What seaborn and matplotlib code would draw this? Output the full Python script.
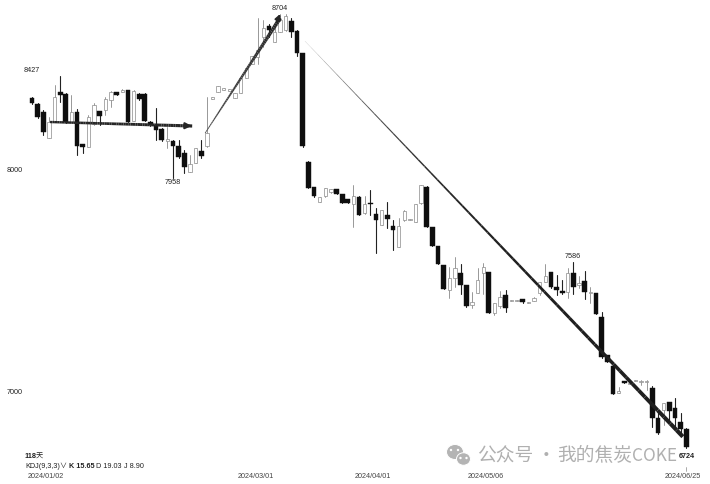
import numpy as np
import pandas as pd
import matplotlib
matplotlib.use("Agg")
import matplotlib.pyplot as plt
from matplotlib.patches import Ellipse
import seaborn as sns

highs = [8328,8301,8270,8239,8383,8423,8346,8338,8275,8117,8248,8301,8265,8329,8355,8351,8365,8360,8360,8346,
         8346,8221,8279,8189,8194,8135,8135,8090,8068,8099,8135,8329,8329,8378,8369,8365,8347,8414,8459,8513,
         8684,8675,8657,8653,8702,8702,8684,8630,8527,8040,7923,7878,7919,7914,7914,7892,7870,7933,7883,7883,
         7910,7829,7820,7856,7775,7784,7820,7780,7847,7933,7928,7743,7658,7573,7564,7608,7577,7483,7451,7559,
         7581,7541,7401,7455,7460,7415,7415,7420,7406,7429,7496,7577,7541,7528,7505,7559,7586,7523,7545,7474,
         7447,7361,7168,7122,7024,7050,7041,7055,7055,7055,7028,6920,6951,6956,6974,6906,6839]
opens = [8324,8297,8261,8144,8216,8351,8342,8216,8261,8117,8103,8207,8265,8270,8315,8351,8351,8360,8221,8342,
         8342,8216,8203,8185,8131,8131,8108,8076,7991,8032,8086,8108,8320,8351,8360,8356,8324,8347,8414,8477,
         8509,8599,8648,8576,8621,8630,8670,8625,8527,8036,7923,7856,7883,7901,7914,7892,7870,7847,7879,7807,
         7852,7802,7752,7798,7748,7653,7775,7775,7766,7851,7923,7743,7658,7573,7460,7514,7536,7483,7392,7447,
         7537,7541,7357,7388,7437,7410,7410,7420,7401,7410,7447,7496,7541,7473,7456,7451,7536,7483,7500,7447,
         7447,7339,7168,7118,6997,7050,7037,7050,7046,7046,7019,6884,6920,6956,6929,6866,6834]
closes = [8301,8239,8171,8216,8329,8338,8216,8261,8108,8103,8239,8292,8243,8320,8351,8338,8360,8216,8355,8320,
          8221,8203,8180,8135,8140,8108,8059,8014,8027,8099,8063,8166,8329,8378,8369,8365,8347,8414,8459,8513,
          8540,8639,8630,8621,8675,8693,8621,8527,8108,7919,7883,7878,7919,7914,7892,7851,7851,7883,7798,7847,
          7847,7775,7820,7780,7730,7748,7816,7780,7847,7933,7743,7658,7577,7465,7514,7559,7483,7388,7406,7505,
          7564,7357,7401,7428,7379,7415,7415,7406,7406,7424,7496,7523,7473,7460,7447,7536,7473,7491,7451,7447,
          7352,7159,7136,6992,7006,7041,7041,7055,7050,7050,6884,6816,6951,6915,6884,6834,6753]
lows = [8297,8234,8158,8144,8216,8306,8211,8216,8068,8076,8103,8202,8202,8248,8284,8338,8351,8216,8221,8315,
        8221,8198,8135,8131,8099,7964,8054,7987,7991,8032,8054,8103,8320,8351,8360,8356,8324,8347,8414,8477,
        8477,8553,8599,8576,8621,8625,8599,8513,8103,7919,7878,7856,7878,7897,7892,7851,7851,7744,7798,7802,
        7798,7626,7752,7739,7640,7653,7771,7775,7766,7847,7743,7658,7577,7465,7424,7473,7442,7384,7379,7447,
        7442,7357,7348,7379,7361,7410,7410,7401,7401,7410,7437,7496,7469,7437,7442,7424,7442,7469,7420,7401,
        7352,7154,7136,6992,6997,7041,7037,7050,7032,7010,6844,6812,6852,6875,6839,6807,6749]

peak_labels = ["8427", "7958", "8704", "7586", "6724"]
axis_labels = ["8000", "7000"]
date_labels = ["2024/01/02", "2024/03/01", "2024/04/01", "2024/05/06", "2024/06/25"]

trend_flat_x, trend_flat_y = [3.2, 28.4], [8216, 8198]
trend_up_x, trend_up_y = [30.7, 44.0], [8166, 8684]
trend_down_x, trend_down_y = [48.4, 115.4], [8580, 6800]

W, H = 710, 484
sns.set_theme(style="white")
plt.rcParams["font.family"] = ["Liberation Sans", "Noto Sans CJK SC", "DejaVu Sans"]

df = pd.DataFrame({"day": np.arange(len(highs)), "open": opens, "high": highs, "low": lows, "close": closes})
df["up"] = df["close"] >= df["open"]
df.loc[99, "up"] = True

fig = plt.figure(figsize=(W / 100, H / 100), dpi=100, facecolor="white")
ax = fig.add_axes([0, 0, 1, 1])
ax.set_xlim(-32 / 5.64, (W - 32) / 5.64)
ax.set_ylim(8765 - 4.5 * H, 8765)
ax.axis("off")

wicks = df.melt(id_vars=["day", "up"], value_vars=["high", "low"], value_name="price")
sns.lineplot(data=wicks[wicks.up], x="day", y="price", units="day", estimator=None,
             color="#888888", lw=0.6, ax=ax, legend=False, zorder=1)
sns.lineplot(data=wicks[~wicks.up], x="day", y="price", units="day", estimator=None,
             color="#222222", lw=0.8, ax=ax, legend=False, zorder=1)

up = df[df.up]
down = df[~df.up]
ax.bar(up.day, (up.close - up.open).clip(lower=4), bottom=up.open, width=0.6,
       facecolor="white", edgecolor="#8a8a8a", lw=0.5, zorder=2)
ax.bar(down.day, (down.open - down.close), bottom=down.close, width=0.84,
       facecolor="#0e0e0e", edgecolor="#0e0e0e", lw=0.3, zorder=3)


def tapered(xs, ys, w0, w1, c0, c1, n=60, fade=1.0):
    """Trend line whose stroke grows along its length."""
    tx = np.linspace(xs[0], xs[1], n + 1)
    ty = np.linspace(ys[0], ys[1], n + 1)
    t = np.linspace(0, 1, n)
    lw = w0 + (w1 - w0) * t
    g = c1 + (c0 - c1) * (1 - t) ** fade
    for i in range(n):
        ax.plot(tx[i:i + 2], ty[i:i + 2], color=str(g[i]), lw=lw[i], zorder=4,
                solid_capstyle="butt")


tapered(trend_flat_x, trend_flat_y, 1.7, 2.3, 0.15, 0.15)
tapered(trend_up_x, trend_up_y, 0.6, 2.8, 0.3, 0.15)
tapered(trend_down_x, trend_down_y, 0.2, 3.0, 0.75, 0.12, fade=6)
ax.annotate("", xy=(trend_flat_x[1] + 0.4, trend_flat_y[1]), xytext=(trend_flat_x[1] - 1, trend_flat_y[1] + 1),
            arrowprops=dict(arrowstyle="-|>", color="#262626", lw=1.5, mutation_scale=9), zorder=5)
ax.annotate("", xy=(trend_up_x[1] + 0.2, trend_up_y[1] + 30), xytext=(trend_up_x[1] - 0.8, trend_up_y[1] - 30),
            arrowprops=dict(arrowstyle="-|>", color="#262626", lw=1.5, mutation_scale=8), zorder=5)


def px(x, y, s, **kw):
    kw.setdefault("color", "#222222")
    kw.setdefault("fontsize", 5.2)
    kw.setdefault("ha", "center")
    kw.setdefault("va", "center")
    fig.text(x / W, 1 - y / H, s, **kw)


for (x, y), s in zip([(32, 70), (173, 183), (280, 8), (573, 257), (687, 457)], peak_labels):
    px(x, y, s, fontweight="bold" if s == "6724" else "normal")
for (x, y), s in zip([(15, 170), (15, 392)], axis_labels):
    px(x, y, s)
for x, s in zip([46, 256, 373, 486, 683], date_labels):
    px(x, 476, s, color="#444444")

px(24, 457, "118", fontweight="bold", ha="left")
px(36, 457, "天", ha="left")
px(25, 466.5, "KDJ(9,3,3)∨", ha="left")
px(69, 466.5, "K 15.65", fontweight="bold", ha="left")
px(96, 466.5, "D 19.03", ha="left")
px(124, 466.5, "J 8.90", ha="left")
ax.plot([df.day.iloc[-1]] * 2, [8765 - 4.5 * 467, 8765 - 4.5 * 471], color="#888888", lw=0.5)

# watermark
fam = ["Noto Sans CJK SC", "DejaVu Sans"]
px(477, 456, "公众号", color="#b0b0b0", fontsize=13.5, ha="left", family=fam, zorder=6)
px(546, 456, "·", color="#b0b0b0", fontsize=13.5, family=fam, zorder=6)
px(557, 456, "我的焦炭", color="#b0b0b0", fontsize=13.5, ha="left", family=fam, zorder=6)
px(632, 456, "COKE", color="#b0b0b0", fontsize=12.4, ha="left", family=fam, zorder=6)
for cx, cy, w_, h_ in [(455, 452, 17, 15), (463.5, 459, 14, 12.5)]:
    fig.add_artist(Ellipse((cx / W, 1 - cy / H), w_ / W, h_ / H, transform=fig.transFigure,
                           facecolor="#b4b4b4", edgecolor="white", lw=0.7, zorder=6))
for cx, cy in [(451, 450), (458, 450), (460.5, 458), (466.5, 458)]:
    fig.add_artist(Ellipse((cx / W, 1 - cy / H), 2.4 / W, 2.4 / H, transform=fig.transFigure,
                           facecolor="white", edgecolor="none", zorder=7))

fig.savefig("out.png", dpi=100, facecolor="white")
